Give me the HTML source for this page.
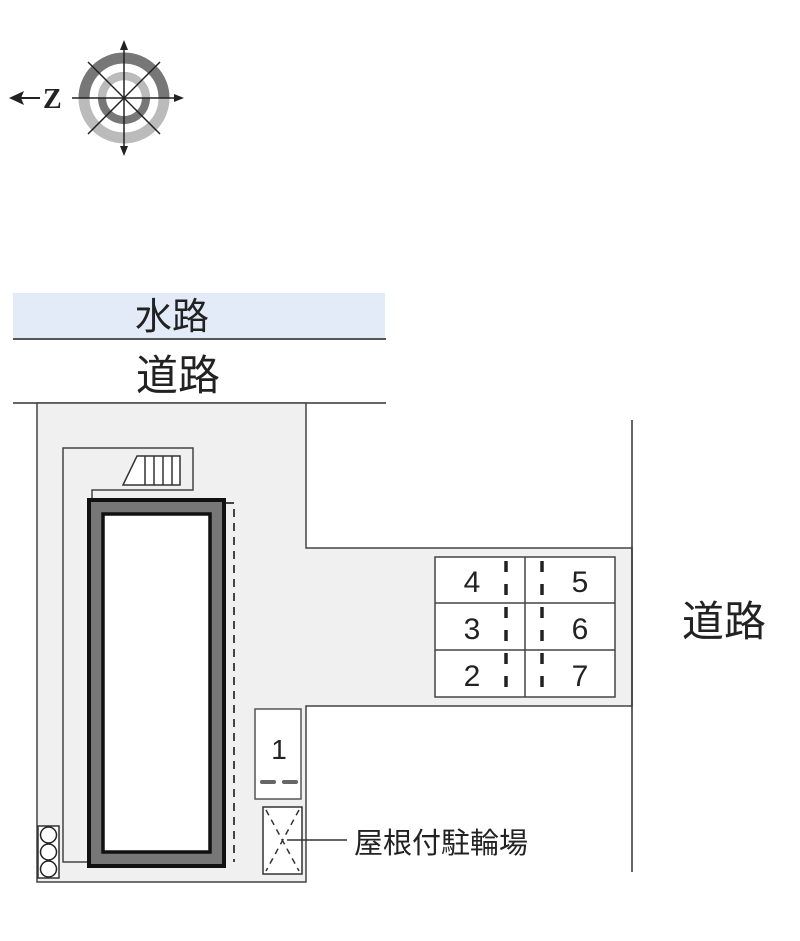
<!DOCTYPE html>
<html><head><meta charset="utf-8"><style>
html,body{margin:0;padding:0;background:#fff;width:800px;height:941px;overflow:hidden}
svg{display:block}
text{font-family:"Liberation Sans","Noto Sans CJK JP",sans-serif;fill:#222}
</style></head><body>
<svg width="800" height="941" viewBox="0 0 800 941" xmlns="http://www.w3.org/2000/svg">
<!-- compass -->
<g>
<circle cx="124" cy="98" r="40" fill="none" stroke="#bbb" stroke-width="11"/>
<path d="M84,98 A40,40 0 0 1 164,98" fill="none" stroke="#777" stroke-width="11"/>
<circle cx="124" cy="98" r="22" fill="none" stroke="#777" stroke-width="8"/>
<path d="M102,98 A22,22 0 0 1 146,98" fill="none" stroke="#bbb" stroke-width="8"/>
<g stroke="#222" stroke-width="1.5">
<line x1="124" y1="44" x2="124" y2="152"/>
<line x1="72" y1="98" x2="180" y2="98"/>
<line x1="88" y1="62" x2="160" y2="134"/>
<line x1="160" y1="62" x2="88" y2="134"/>
</g>
<polygon points="124,40 120,50 128,50" fill="#222"/>
<polygon points="124,156 120,146 128,146" fill="#222"/>
<polygon points="184,98 174,94 174,102" fill="#222"/>
<polygon points="9,98 24,91 21,98 24,105" fill="#222"/>
<line x1="20" y1="98" x2="40" y2="98" stroke="#222" stroke-width="2"/>
<text x="43" y="108" font-size="28" font-weight="bold" style="font-family:'Liberation Serif',serif">Z</text>
</g>
<!-- water -->
<rect x="13" y="293" width="372" height="45" fill="#e3ebf9"/>
<line x1="13" y1="339" x2="386" y2="339" stroke="#555" stroke-width="2"/>
<text x="172" y="329" font-size="37" text-anchor="middle">水路</text>
<text x="178" y="390" font-size="42" text-anchor="middle">道路</text>
<line x1="13" y1="403" x2="386" y2="403" stroke="#333" stroke-width="1.5"/>
<!-- lot -->
<polygon points="37,403 37,882 306,882 306,706 632,706 632,548 306,548 306,403" fill="#f0f0f0" stroke="#444" stroke-width="1.5"/>
<line x1="632" y1="420" x2="632" y2="872" stroke="#333" stroke-width="1.5"/>
<text x="724" y="636" font-size="42" text-anchor="middle">道路</text>
<!-- inner lines -->
<polyline points="92,500 92,490 193,490 193,448 63,448 63,862 90,862" fill="none" stroke="#444" stroke-width="1.5"/>
<!-- stairs -->
<g stroke="#333" stroke-width="1.5" fill="#fff">
<polygon points="123,485 137,456 180,456 180,485"/>
<line x1="145" y1="456" x2="145" y2="485"/><line x1="154" y1="456" x2="154" y2="485"/>
<line x1="163" y1="456" x2="163" y2="485"/><line x1="172" y1="456" x2="172" y2="485"/>
</g>
<!-- building -->
<rect x="89" y="500" width="135" height="366" fill="#777" stroke="#111" stroke-width="4"/>
<rect x="103" y="514" width="107" height="338" fill="#fff" stroke="#111" stroke-width="3.5"/>
<polyline points="226,503 234,503 234,862" fill="none" stroke="#444" stroke-width="2" stroke-dasharray="8,6"/>
<!-- circles -->
<rect x="38" y="826" width="21" height="52" fill="#fff" stroke="#333" stroke-width="1.5"/>
<circle cx="48.5" cy="835" r="8" fill="#fff" stroke="#222" stroke-width="1.5"/>
<circle cx="48.5" cy="852" r="8" fill="#fff" stroke="#222" stroke-width="1.5"/>
<circle cx="48.5" cy="869" r="8" fill="#fff" stroke="#222" stroke-width="1.5"/>
<!-- box 1 -->
<rect x="255" y="709" width="46" height="90" fill="#fff" stroke="#555" stroke-width="1.5"/>
<text x="279" y="759" font-size="28" text-anchor="middle">1</text>
<line x1="262" y1="782" x2="274" y2="782" stroke="#666" stroke-width="4" stroke-linecap="round"/>
<line x1="284" y1="782" x2="296" y2="782" stroke="#666" stroke-width="4" stroke-linecap="round"/>
<!-- bike -->
<rect x="263" y="807" width="39" height="67" fill="#fff" stroke="#333" stroke-width="1.5"/>
<g stroke="#333" stroke-width="1.5" stroke-dasharray="6,5">
<line x1="266" y1="810" x2="299" y2="871"/>
<line x1="299" y1="810" x2="266" y2="871"/>
</g>
<line x1="287" y1="840" x2="347" y2="840" stroke="#333" stroke-width="1.5"/>
<text x="354" y="853" font-size="29">屋根付駐輪場</text>
<!-- parking -->
<g stroke="#444" stroke-width="1.5" fill="#fff">
<rect x="435" y="557" width="180" height="140"/>
<line x1="525" y1="557" x2="525" y2="697"/>
<line x1="435" y1="603" x2="615" y2="603"/>
<line x1="435" y1="650" x2="615" y2="650"/>
</g>
<g stroke="#222" stroke-width="3.5" stroke-dasharray="11,12">
<line x1="506" y1="561" x2="506" y2="694"/>
<line x1="542" y1="561" x2="542" y2="694"/>
</g>
<g font-size="30" text-anchor="middle">
<text x="472" y="592">4</text><text x="580" y="592">5</text>
<text x="472" y="639">3</text><text x="580" y="639">6</text>
<text x="472" y="686">2</text><text x="580" y="686">7</text>
</g>
</svg>
</body></html>
